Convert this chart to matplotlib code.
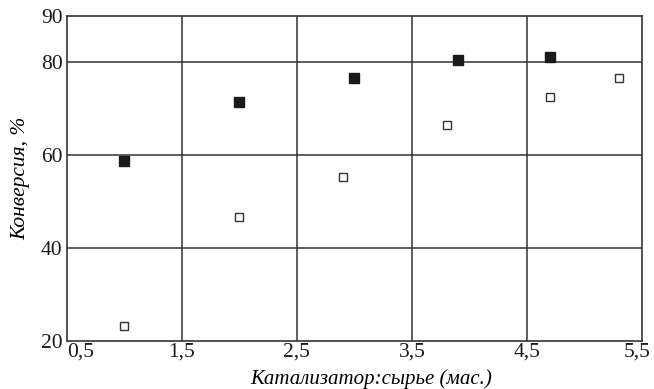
import matplotlib
matplotlib.use("Agg")
import matplotlib.pyplot as plt
from matplotlib.transforms import ScaledTranslation

# катализатор:сырье и конверсия, две серии точек
x_filled = [1.0, 2.0, 3.0, 3.9, 4.7]
y_filled = [58.8, 71.4, 76.5, 80.4, 81.0]

x_open = [1.0, 2.0, 2.9, 3.8, 4.7, 5.3]
y_open = [23.1, 46.7, 55.3, 66.5, 72.5, 76.5]

x_ticks = [0.5, 1.5, 2.5, 3.5, 4.5, 5.5]
x_tick_labels = ["0,5", "1,5", "2,5", "3,5", "4,5", "5,5"]
y_ticks = [20, 40, 60, 80, 90]

plt.rcParams["font.family"] = ["Liberation Serif", "DejaVu Serif"]

fig = plt.figure(figsize=(6.54, 3.89), dpi=100)
ax = fig.add_axes([0.102, 0.124, 0.880, 0.836])

ax.plot(x_filled, y_filled, linestyle="none", marker="s", markersize=7.3,
        markerfacecolor="#1a1a1a", markeredgecolor="#1a1a1a")
ax.plot(x_open, y_open, linestyle="none", marker="s", markersize=6.4,
        markerfacecolor="white", markeredgecolor="#333333", markeredgewidth=1.0)

ax.set_xlim(0.5, 5.5)
ax.set_ylim(20, 90)
ax.set_xticks(x_ticks)
ax.set_xticklabels(x_tick_labels)
ax.set_yticks(y_ticks)
ax.tick_params(length=0, labelsize=15.5, colors="#1a1a1a")
ax.tick_params(axis="x", pad=1)
ax.tick_params(axis="y", pad=3)
xlabels = ax.get_xticklabels()
xlabels[0].set_horizontalalignment("left")
# последняя подпись чуть левее, чтобы не обрезалась
xlabels[-1].set_transform(xlabels[-1].get_transform()
                          + ScaledTranslation(-0.05, 0, fig.dpi_scale_trans))

for v in [1.5, 2.5, 3.5, 4.5]:
    ax.axvline(v, color="#333333", linewidth=1.1, zorder=0)
for v in [40, 60, 80]:
    ax.axhline(v, color="#333333", linewidth=1.1, zorder=0)
for s in ax.spines.values():
    s.set_linewidth(1.2)
    s.set_color("#333333")

ax.set_xlabel("Катализатор:сырье (мас.)", fontsize=15, style="italic")
ax.set_ylabel("Конверсия, %", fontsize=15.5, style="italic")
ax.xaxis.set_label_coords(0.529, -0.088)
ax.yaxis.set_label_coords(-0.063, 0.5)

plt.savefig("out.png", dpi=100)
